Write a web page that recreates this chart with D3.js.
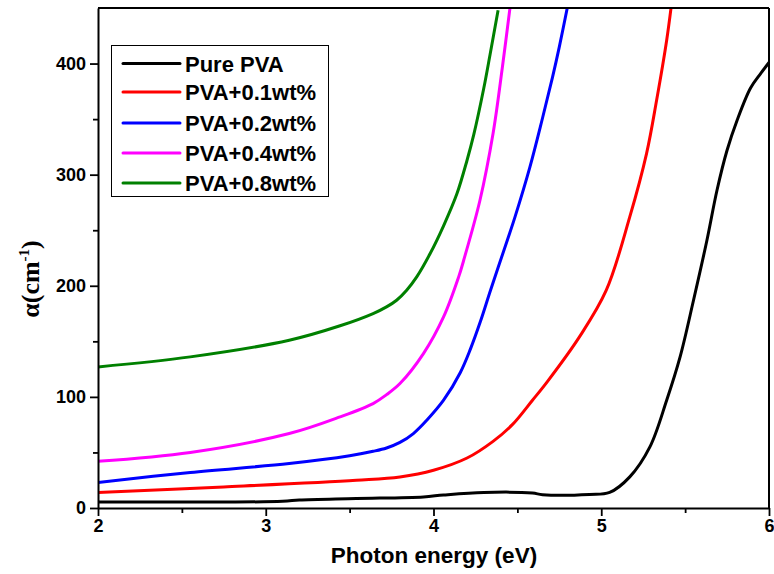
<!DOCTYPE html>
<html>
<head>
<meta charset="utf-8">
<script src="https://cdn.jsdelivr.net/npm/d3@7"></script>
<style>
  html, body { margin: 0; padding: 0; background: #fff; }
  svg { display: block; }
  text { font-family: "Liberation Sans", Arial, sans-serif; font-weight: bold; }
</style>
</head>
<body>
<svg id="chart" width="774" height="574"></svg>
<script>
// ---- Data ----
const seriesNames = ["Pure PVA", "PVA+0.1wt%", "PVA+0.2wt%", "PVA+0.4wt%", "PVA+0.8wt%"];
const seriesColors = ["#000000", "#ff0000", "#0000ff", "#ff00ff", "#008000"];

const purePVA_x = [2.0, 3.1, 3.2, 3.54, 3.94, 4.06, 4.30, 4.59, 4.65, 4.93, 5.05, 5.17, 5.29, 5.39, 5.47, 5.55, 5.63, 5.69, 5.75, 5.81, 5.89, 5.95, 6.0];
const purePVA_y = [5.5, 6.0, 7.2, 8.5, 10, 11.7, 14, 13.5, 12, 12.2, 14, 28, 55, 97, 136, 187, 241, 286, 322, 349, 378, 391, 401];

const pva01_x = [2.0, 2.75, 3.54, 3.80, 4.00, 4.20, 4.355, 4.47, 4.59, 4.68, 4.87, 5.03, 5.17, 5.27, 5.33, 5.39, 5.42];
const pva01_y = [14, 19, 25, 28, 34, 45, 60, 75, 97, 114, 154, 196, 262, 319, 367, 421, 455];

const pva02_x = [2.0, 2.55, 3.14, 3.50, 3.64, 3.72, 3.80, 3.88, 3.96, 4.06, 4.16, 4.22, 4.28, 4.34, 4.44, 4.486, 4.575, 4.65, 4.71, 4.75, 4.80];
const pva02_y = [23, 32, 40, 47, 51, 54, 59, 67, 79, 97, 122, 143, 168, 196, 241, 262, 307, 351, 388, 415, 452];

const pva04_x = [2.0, 2.55, 3.14, 3.443, 3.64, 3.72, 3.80, 3.94, 4.06, 4.15, 4.18, 4.277, 4.355, 4.41, 4.46];
const pva04_y = [42, 50, 67, 82, 94, 102, 112, 139, 172, 208, 223, 277, 337, 396, 455];

const pva08_x = [2.0, 2.55, 3.14, 3.443, 3.64, 3.72, 3.78, 3.84, 3.90, 3.98, 4.06, 4.14, 4.20, 4.24, 4.30, 4.337, 4.385];
const pva08_y = [127, 136, 151, 164, 175, 181, 187, 196, 208, 229, 254, 283, 313, 336, 378, 408, 448];

const seriesX = [purePVA_x, pva01_x, pva02_x, pva04_x, pva08_x];
const seriesY = [purePVA_y, pva01_y, pva02_y, pva04_y, pva08_y];

const xMajorTicks = [2, 3, 4, 5, 6];
const xMinorTicks = [2.5, 3.5, 4.5, 5.5];
const yMajorTicks = [0, 100, 200, 300, 400];
const yMinorTicks = [50, 150, 250, 350];

// ---- Layout ----
const svg = d3.select("#chart");
const pL = 98, pR = 769, pT = 8, pB = 508;

const x = d3.scaleLinear().domain([2, 6]).range([pL, pR]);
const y = d3.scaleLinear().domain([0, 450]).range([pB, pT]);

svg.append("defs").append("clipPath").attr("id", "clip")
  .append("rect").attr("x", pL).attr("y", pT).attr("width", pR - pL).attr("height", pB - pT);

// Lines
const line = d3.line().x(d => x(d[0])).y(d => y(d[1])).curve(d3.curveCatmullRom.alpha(0.5));
const plot = svg.append("g").attr("clip-path", "url(#clip)");
seriesNames.forEach((name, i) => {
  const pts = seriesX[i].map((v, j) => [v, seriesY[i][j]]);
  plot.append("path").datum(pts)
    .attr("d", line)
    .attr("fill", "none")
    .attr("stroke", seriesColors[i])
    .attr("stroke-width", 3)
    .attr("stroke-linejoin", "round");
});

// Frame (top & right)
svg.append("line").attr("x1", pL).attr("x2", pR).attr("y1", pT).attr("y2", pT)
  .attr("stroke", "#000").attr("stroke-width", 2);
svg.append("line").attr("x1", pR).attr("x2", pR).attr("y1", pT).attr("y2", pB)
  .attr("stroke", "#000").attr("stroke-width", 2);

// X axis
svg.append("g").attr("transform", `translate(0,${pB})`)
  .call(d3.axisBottom(x).tickValues(xMajorTicks).tickFormat(d3.format("d")).tickSize(8).tickPadding(3).tickSizeOuter(0));
svg.append("g").attr("transform", `translate(0,${pB})`)
  .call(d3.axisBottom(x).tickValues(xMinorTicks).tickFormat("").tickSize(5).tickSizeOuter(0))
  .call(g => g.select(".domain").remove());

// Y axis
svg.append("g").attr("transform", `translate(${pL},0)`)
  .call(d3.axisLeft(y).tickValues(yMajorTicks).tickFormat(d3.format("d")).tickSize(8).tickPadding(4).tickSizeOuter(0));
svg.append("g").attr("transform", `translate(${pL},0)`)
  .call(d3.axisLeft(y).tickValues(yMinorTicks).tickFormat("").tickSize(5).tickSizeOuter(0))
  .call(g => g.select(".domain").remove());

svg.selectAll(".domain").attr("stroke", "#000").attr("stroke-width", 2);
svg.selectAll(".tick line").attr("stroke", "#000").attr("stroke-width", 1.8);
svg.selectAll(".tick text")
  .attr("fill", "#000")
  .style("font-family", "'Liberation Sans', Arial, sans-serif")
  .style("font-weight", "bold")
  .style("font-size", "18px");

// Axis titles
svg.append("text")
  .attr("x", 434).attr("y", 563)
  .attr("text-anchor", "middle")
  .style("font-size", "22.5px")
  .text("Photon energy (eV)");

const yl = svg.append("text")
  .attr("transform", "translate(39,279) rotate(-90)")
  .attr("text-anchor", "middle")
  .style("font-family", "'Liberation Serif', 'Times New Roman', serif")
  .style("font-size", "26px");
yl.append("tspan").text("α(cm");
yl.append("tspan").attr("dy", -10).style("font-size", "15px").text("-1");
yl.append("tspan").attr("dy", 10).text(")");

// Legend
const lg = svg.append("g");
lg.append("rect")
  .attr("x", 111.5).attr("y", 45.5).attr("width", 217).attr("height", 151)
  .attr("fill", "#fff").attr("stroke", "#000").attr("stroke-width", 1);
const legendRowY = [63.5, 92, 123, 153, 183];
seriesNames.forEach((name, i) => {
  lg.append("line")
    .attr("x1", 123).attr("x2", 180)
    .attr("y1", legendRowY[i]).attr("y2", legendRowY[i])
    .attr("stroke", seriesColors[i]).attr("stroke-width", 3).attr("stroke-linecap", "round");
  lg.append("text")
    .attr("x", 185).attr("y", legendRowY[i] + 8)
    .style("font-size", "22px")
    .text(name);
});
</script>
</body>
</html>
